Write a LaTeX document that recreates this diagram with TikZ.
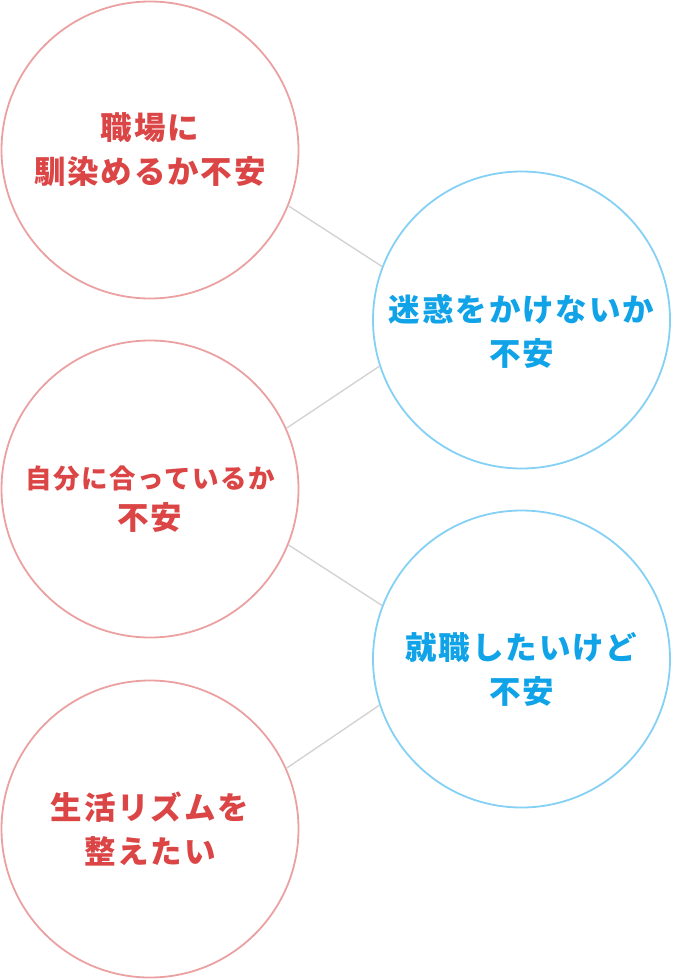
\documentclass[tikz,border=0pt]{standalone}
\usepackage{fontspec}
\usetikzlibrary{positioning, calc}
\newfontfamily\jpfont{Noto Sans CJK JP}[LetterSpace=6]
\definecolor{ringRed}{HTML}{EBA1A1}
\definecolor{textRed}{HTML}{DB4545}
\definecolor{ringBlue}{HTML}{85D0F5}
\definecolor{textBlue}{HTML}{10A3E8}
\definecolor{linkGray}{HTML}{D3D3D3}
\tikzset{
  worry/.style={
    circle, draw=ringRed, line width=1.8pt, fill=white,
    minimum size=297pt, inner sep=0pt,
  },
  concern/.style={
    circle, draw=ringBlue, line width=1.8pt, fill=white,
    minimum size=297pt, inner sep=0pt,
  },
  redlabel/.style={
    font=\jpfont\bfseries\fontsize{31.5}{44}\selectfont, text=textRed, align=center,
  },
  bluelabel/.style={
    font=\jpfont\bfseries\fontsize{31.5}{44}\selectfont, text=textBlue, align=center,
  },
  link/.style={
    draw=linkGray, line width=1.4pt,
  },
}

\begin{document}
\begin{tikzpicture}[x=1pt, y=-1pt]
  \useasboundingbox (0,0) rectangle (672,979);

  % === Ring centres ===
  \coordinate (c1) at (150,150);
  \coordinate (c2) at (150,489);
  \coordinate (c3) at (150,829);
  \coordinate (c4) at (521.5,320);
  \coordinate (c5) at (521.5,659);

  % === Left column: red rings ===
  \node[worry] (shokuba) at (c1) {};
  \node[redlabel] at (shokuba.center) {職場に\\馴染めるか不安};

  \node[worry] (jibun) at (c2) {};
  \node[redlabel, yshift=-10pt] at (jibun.center)
    {{\fontsize{26.5}{44}\selectfont 自分に合っているか}\\[-3pt]不安};

  \node[worry] (seikatsu) at (c3) {};
  \node[redlabel] at (seikatsu.center) {生活リズムを\\整えたい};

  % === Right column: blue rings ===
  \node[concern] (meiwaku) at (c4) {};
  \node[bluelabel, yshift=-11pt] at (meiwaku.center) {迷惑をかけないか\\不安};

  \node[concern] (shushoku) at (c5) {};
  \node[bluelabel, yshift=-10pt] at (shushoku.center) {就職したいけど\\不安};

  % === Links ===
  \draw[link] (shokuba.-22) -- (meiwaku.159);
  \draw[link] (jibun.24) -- (meiwaku.198);
  \draw[link] (jibun.-22) -- (shushoku.159);
  \draw[link] (seikatsu.24) -- (shushoku.198);

\end{tikzpicture}
\end{document}
